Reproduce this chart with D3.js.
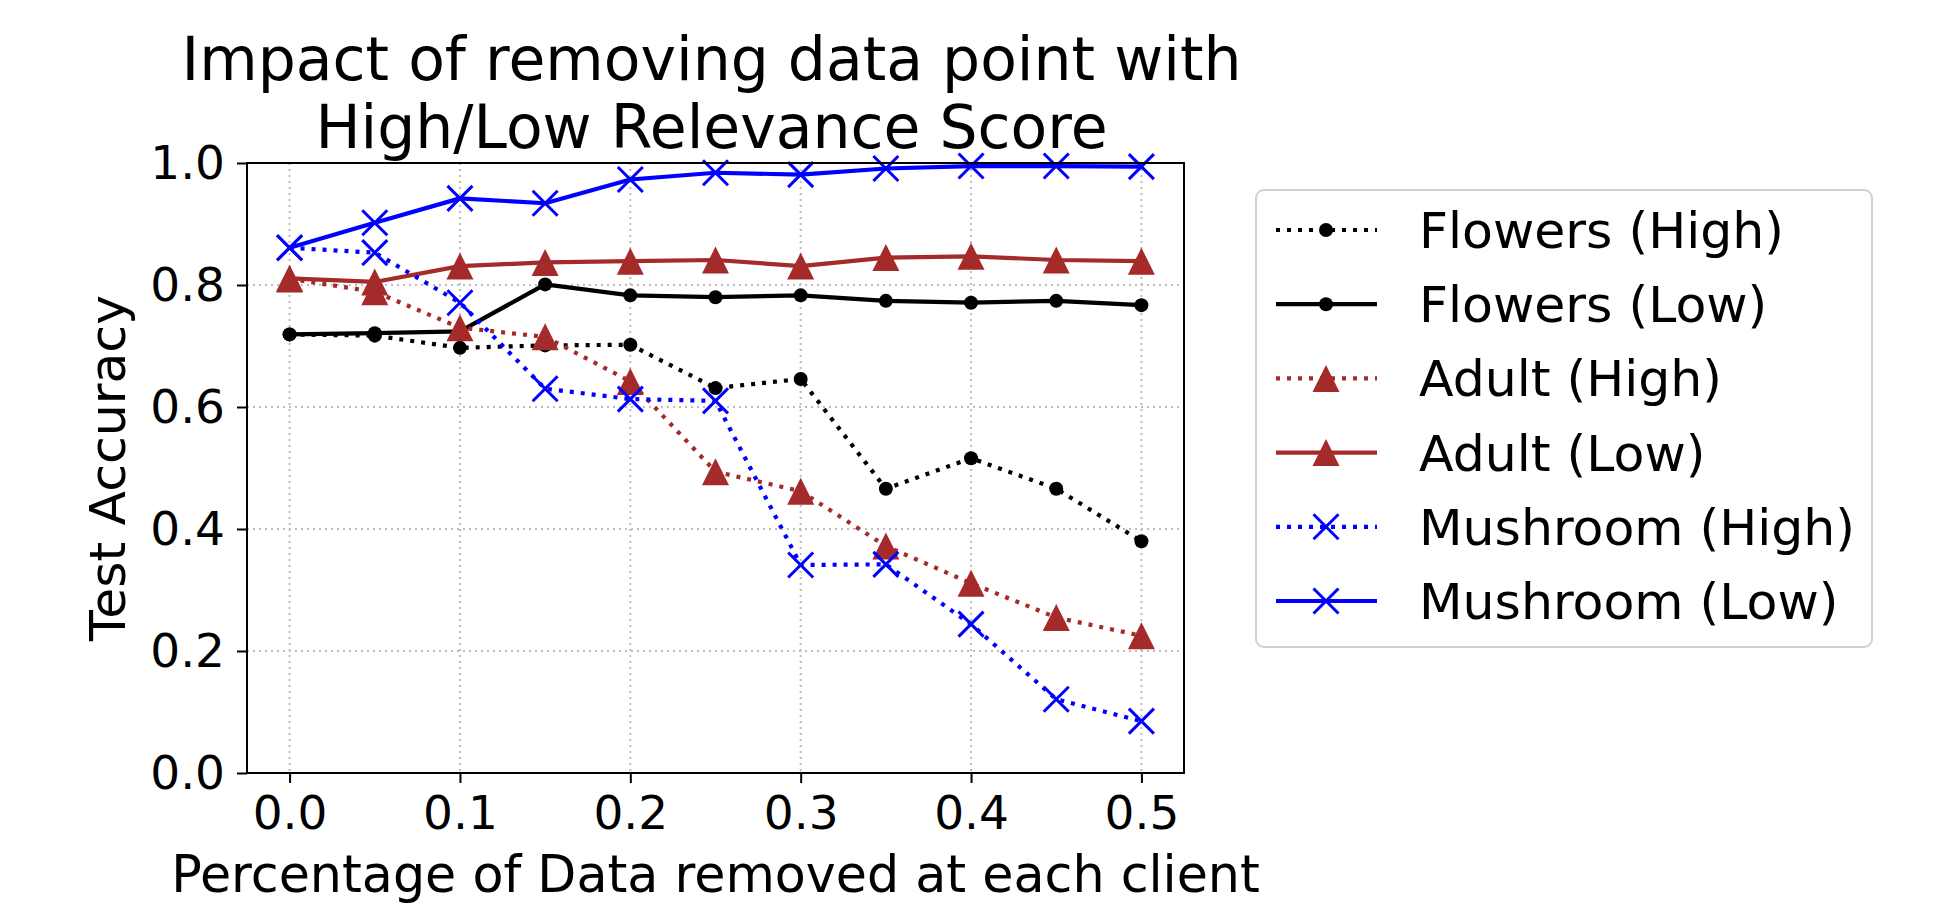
<!DOCTYPE html>
<html>
<head>
<meta charset="utf-8">
<script src="https://cdn.jsdelivr.net/npm/d3@7"></script>
<style>
  html, body { margin: 0; padding: 0; background: #fff; }
  svg { display: block; font-family: "DejaVu Sans", sans-serif; }
</style>
</head>
<body>
<div id="chart"></div>
<script>
// data
const removed = [0, 0.05, 0.1, 0.15, 0.2, 0.25, 0.3, 0.35, 0.4, 0.45, 0.5];
const flowersHigh = [0.719, 0.717, 0.697, 0.701, 0.702, 0.631, 0.646, 0.466, 0.516, 0.466, 0.380];
const flowersLow = [0.719, 0.721, 0.724, 0.801, 0.783, 0.780, 0.783, 0.774, 0.771, 0.774, 0.767];
const adultHigh = [0.810, 0.789, 0.730, 0.715, 0.642, 0.494, 0.462, 0.372, 0.311, 0.255, 0.225];
const adultLow = [0.811, 0.805, 0.831, 0.837, 0.839, 0.841, 0.831, 0.845, 0.847, 0.841, 0.839];
const mushroomHigh = [0.861, 0.853, 0.771, 0.630, 0.613, 0.610, 0.341, 0.342, 0.244, 0.121, 0.085];
const mushroomLow = [0.861, 0.902, 0.942, 0.934, 0.973, 0.984, 0.981, 0.991, 0.995, 0.995, 0.994];

const xTicks = [0, 0.1, 0.2, 0.3, 0.4, 0.5];
const yTicks = [0, 0.2, 0.4, 0.6, 0.8, 1.0];

const titleLines = ["Impact of removing data point with", "High/Low Relevance Score"];

const series = [
  { name: "Flowers (High)", values: flowersHigh, color: "#000000", dotted: true, marker: "dot" },
  { name: "Flowers (Low)", values: flowersLow, color: "#000000", dotted: false, marker: "dot" },
  { name: "Adult (High)", values: adultHigh, color: "#a52a2a", dotted: true, marker: "tri" },
  { name: "Adult (Low)", values: adultLow, color: "#a52a2a", dotted: false, marker: "tri" },
  { name: "Mushroom (High)", values: mushroomHigh, color: "#0000ff", dotted: true, marker: "x" },
  { name: "Mushroom (Low)", values: mushroomLow, color: "#0000ff", dotted: false, marker: "x" },
];

const W = 1937, H = 911;
const plotL = 247, plotR = 1184, plotT = 163, plotB = 773;
const DOTS = "4,7";

const svg = d3.select("#chart").append("svg")
  .attr("width", W).attr("height", H);

const x = d3.scaleLinear().domain([-0.025, 0.525]).range([plotL, plotR]);
const y = d3.scaleLinear().domain([0, 1]).range([plotB, plotT]);

// grid
const grid = svg.append("g")
  .attr("stroke", "#bdbdbd").attr("stroke-width", 2).attr("stroke-dasharray", "2,4");
grid.selectAll(".gx").data(xTicks).enter().append("line")
  .attr("x1", d => x(d)).attr("x2", d => x(d)).attr("y1", plotT).attr("y2", plotB);
grid.selectAll(".gy").data(yTicks).enter().append("line")
  .attr("x1", plotL).attr("x2", plotR).attr("y1", d => y(d)).attr("y2", d => y(d));

// axes
const xAxis = svg.append("g")
  .attr("transform", `translate(0,${plotB})`)
  .call(d3.axisBottom(x).tickValues(xTicks).tickFormat(d3.format(".1f")).tickSize(10).tickPadding(13));
const yAxis = svg.append("g")
  .attr("transform", `translate(${plotL},0)`)
  .call(d3.axisLeft(y).tickValues(yTicks).tickFormat(d3.format(".1f")).tickSize(10).tickPadding(12));

[xAxis, yAxis].forEach(a => {
  a.select(".domain").remove();
  a.selectAll("line").attr("stroke", "#000").attr("stroke-width", 2);
  a.selectAll("text").attr("font-size", "47px").attr("fill", "#000")
    .attr("font-family", "DejaVu Sans, sans-serif");
});

// markers
function drawMarker(g, kind, cx, cy, color) {
  if (kind === "dot") {
    g.append("circle").attr("cx", cx).attr("cy", cy).attr("r", 7).attr("fill", color);
  } else if (kind === "tri") {
    const s = 13.5;
    g.append("path")
      .attr("d", `M${cx},${cy - s}L${cx - s},${cy + s}L${cx + s},${cy + s}Z`)
      .attr("fill", color);
  } else {
    const s = 12.5;
    g.append("path")
      .attr("d", `M${cx - s},${cy - s}L${cx + s},${cy + s}M${cx - s},${cy + s}L${cx + s},${cy - s}`)
      .attr("stroke", color).attr("stroke-width", 3).attr("fill", "none");
  }
}

const line = d3.line().x((d, i) => x(removed[i])).y(d => y(d));

series.forEach(s => {
  const g = svg.append("g");
  g.append("path")
    .attr("d", line(s.values))
    .attr("fill", "none")
    .attr("stroke", s.color)
    .attr("stroke-width", 4.2)
    .attr("stroke-linejoin", "round")
    .attr("stroke-dasharray", s.dotted ? DOTS : null);
  s.values.forEach((v, i) => drawMarker(g, s.marker, x(removed[i]), y(v), s.color));
});

// frame
svg.append("rect")
  .attr("x", plotL).attr("y", plotT)
  .attr("width", plotR - plotL).attr("height", plotB - plotT)
  .attr("fill", "none").attr("stroke", "#000").attr("stroke-width", 2);

// title + labels
svg.selectAll(".title").data(titleLines).enter().append("text")
  .attr("x", (plotL + plotR) / 2 - 4)
  .attr("y", (d, i) => 80 + i * 68)
  .attr("text-anchor", "middle")
  .attr("font-size", "60px")
  .text(d => d);

svg.append("text")
  .attr("x", (plotL + plotR) / 2).attr("y", 892)
  .attr("text-anchor", "middle").attr("font-size", "50.7px")
  .text("Percentage of Data removed at each client");

svg.append("text")
  .attr("transform", `translate(125,${(plotT + plotB) / 2}) rotate(-90)`)
  .attr("text-anchor", "middle").attr("font-size", "50.5px")
  .text("Test Accuracy");

// legend
const legend = svg.append("g");
legend.append("rect")
  .attr("x", 1256).attr("y", 190).attr("width", 616).attr("height", 457)
  .attr("rx", 8).attr("fill", "#fff").attr("fill-opacity", 0.8)
  .attr("stroke", "#d0d0d0").attr("stroke-width", 2);

series.forEach((s, i) => {
  const ry = 230 + i * 74.2;
  const g = legend.append("g");
  g.append("line")
    .attr("x1", 1276).attr("x2", 1377).attr("y1", ry).attr("y2", ry)
    .attr("stroke", s.color).attr("stroke-width", 4.2)
    .attr("stroke-dasharray", s.dotted ? DOTS : null);
  drawMarker(g, s.marker, 1326, ry, s.color);
  g.append("text")
    .attr("x", 1419).attr("y", ry + 18)
    .attr("font-size", "50.5px")
    .text(s.name);
});
</script>
</body>
</html>
